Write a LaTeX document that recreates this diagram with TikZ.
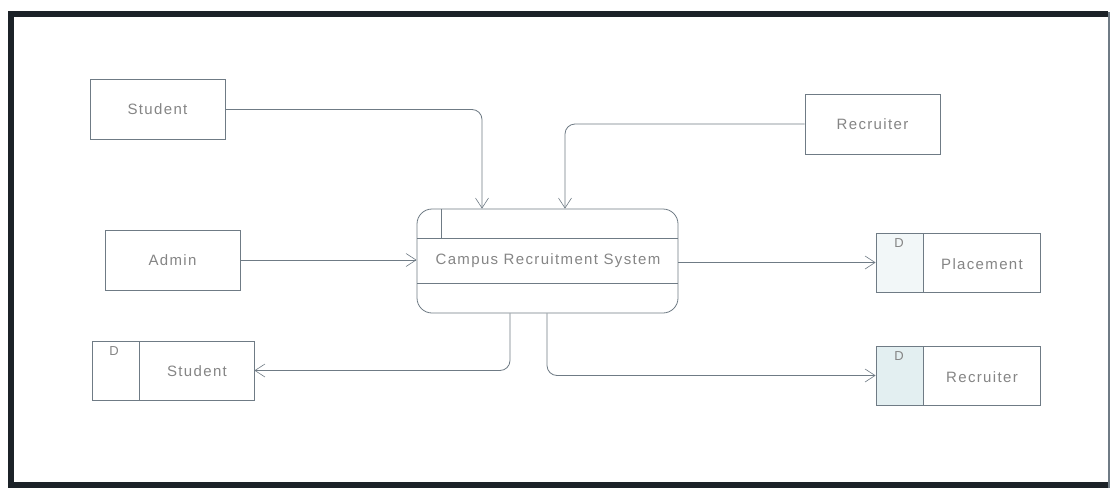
\documentclass[tikz,border=0pt]{standalone}
\usepackage{fontspec}
\setmainfont{Liberation Sans}
\newfontfamily\diagfont[LetterSpace=9]{Liberation Sans}
\usetikzlibrary{arrows.meta,calc}
\definecolor{linegray}{HTML}{6F7B85}
\definecolor{textgray}{HTML}{858585}
\definecolor{framedark}{HTML}{1C2228}
\definecolor{storefill}{HTML}{E3EFF1}
\definecolor{storefilllight}{HTML}{F2F7F8}

\begin{document}
\begin{tikzpicture}[x=1pt,y=-1pt,
  entity/.style={draw=linegray, line width=0.8pt, minimum width=135pt,
    minimum height=60pt, inner sep=0pt, text=textgray,
    font=\diagfont\fontsize{15}{18}\selectfont},
  store/.style={draw=linegray, line width=0.8pt, minimum width=164pt,
    minimum height=59pt, inner sep=0pt},
  storelabel/.style={text=textgray, font=\diagfont\fontsize{15}{18}\selectfont},
  storetag/.style={text=textgray, font=\diagfont\fontsize{13}{15}\selectfont},
  flow/.style={draw=linegray, line width=0.8pt, rounded corners=10pt,
    -{Straight Barb[length=10pt,width=13pt,line width=0.6pt]}},
  procline/.style={draw=linegray, line width=0.8pt}
]
\useasboundingbox (0,0) rectangle (1111,490);
\fill[white] (0,0) rectangle (1111,490);

% outer frame
\draw[framedark, line width=6pt] (1108,14) -- (11,14) -- (11,485) -- (1108,485);
\draw[linegray, line width=1.6pt] (1109,12) -- (1109,488);

% external entities
\node[entity] (stud)  at (157.5,109.5) {Student};
\node[entity] (recr)  at (872.5,124)   {Recruiter};
\node[entity] (admin) at (172.5,260)   {Admin};

% process
\node[draw=linegray, line width=0.8pt, rounded corners=15pt,
  minimum width=261pt, minimum height=104pt, inner sep=0pt] (proc) at (547.5,261) {};
\draw[procline] (417,238) -- (678,238);
\draw[procline] (417,283) -- (678,283);
\draw[procline] (441,209) -- (441,238);
\node[text=textgray, font=\diagfont\fontsize{15}{18}\selectfont] (proclabel) at (548,261) {Campus Recruitment System};

% data stores
\fill[storefilllight] (876,233) rectangle (923,292);
\node[store] (dsplace) at (958,262.5) {};
\draw[procline] (923,233) -- (923,292);
\node[storetag] (dsplaceD) at (899,243) {D};
\node[storelabel] (dsplaceL) at (982,264) {Placement};

\fill[storefill] (876,346) rectangle (923,405);
\node[store] (dsrecr) at (958,375.5) {};
\draw[procline] (923,346) -- (923,405);
\node[storetag] (dsrecrD) at (899,356) {D};
\node[storelabel] (dsrecrL) at (982,377) {Recruiter};

\node[store, minimum width=162pt] (dsstud) at (173,370.5) {};
\draw[procline] (139,341) -- (139,400);
\node[storetag] (dsstudD) at (114,351) {D};
\node[storelabel] (dsstudL) at (197,371) {Student};

% data flows
\draw[flow] (stud.east) -| ([xshift=-65.5pt]proc.north);
\draw[flow] (recr.west) -| ([xshift=17.5pt]proc.north);
\draw[flow] (admin.east) -- (proc.west |- admin.east);
\draw[flow] (proc.east |- dsplace.west) -- (dsplace.west);
\draw[flow] ([xshift=-37.5pt]proc.south) |- (dsstud.east);
\draw[flow] ([xshift=-0.5pt]proc.south) |- (dsrecr.west);
\end{tikzpicture}
\end{document}
